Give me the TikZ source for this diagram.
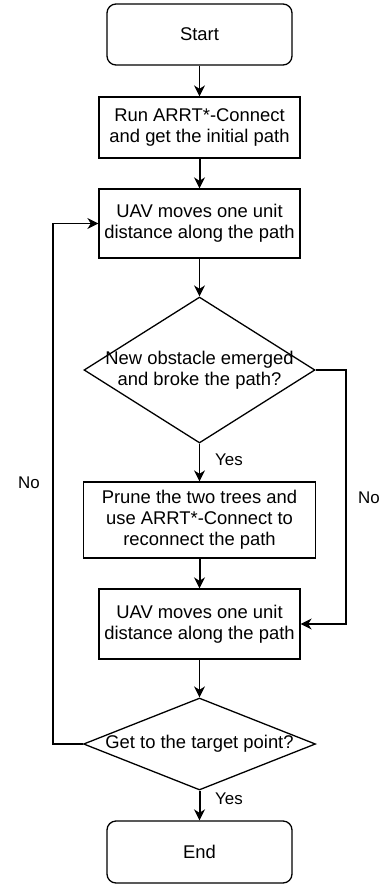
\documentclass[tikz,border=0pt]{standalone}
\usepackage{fontspec}
\setmainfont{Liberation Sans}
\usetikzlibrary{arrows.meta,shapes.geometric,positioning}
\begin{document}
\begin{tikzpicture}[x=1pt,y=-1pt,
  every node/.style={font=\fontsize{18.4}{21.2}\selectfont},
  boxstyle/.style={draw, line width=1.3pt, rectangle, inner sep=0pt, align=center},
  termstyle/.style={boxstyle, rounded corners=9pt},
  decstyle/.style={draw, line width=1.3pt, diamond, inner sep=0pt},
  conn/.style={line width=1.3pt, -{Stealth[length=11pt,width=11pt,inset=3.5pt]}},
  thick conn/.style={conn, line width=2pt},
  lbl/.style={font=\fontsize{16.9}{19.4}\selectfont}
]
\useasboundingbox (0,0) rectangle (382,884);

\node[termstyle, minimum width=185pt, minimum height=61pt] (start) at (199.5,34.5) {Start};
\node[boxstyle, minimum width=201pt, minimum height=61pt] (run) at (199.5,127.5) {Run ARRT*-Connect\\and get the initial path};
\node[boxstyle, minimum width=201pt, minimum height=69pt] (move1) at (199.5,223.5) {UAV moves one unit\\distance along the path};
\node[decstyle, minimum width=231pt, minimum height=146pt] (dec1) at (199.5,370) {};
\node[align=center] (dec1text) at (dec1.center) {New obstacle emerged\\and broke the path?};
\node[boxstyle, minimum width=232pt, minimum height=76pt] (prune) at (199.5,520) {Prune the two trees and\\use ARRT*-Connect to\\reconnect the path};
\node[boxstyle, minimum width=201pt, minimum height=70pt] (move2) at (199.5,624) {UAV moves one unit\\distance along the path};
\node[decstyle, minimum width=232pt, minimum height=92pt] (dec2) at (199.5,744) {};
\node (dec2text) at (dec2.center) {Get to the target point?};
\node[termstyle, minimum width=185pt, minimum height=62pt] (end) at (199.5,852) {End};

\coordinate (r1) at (346,370);
\coordinate (r2) at (346,624);
\coordinate (l1) at (53,744);
\coordinate (l2) at (53,223.5);

\draw[conn] (start) -- (run);
\draw[thick conn] (run) -- (move1);
\draw[conn] (move1) -- (dec1.north);
\draw[conn] (dec1.south) -- (prune);
\draw[thick conn] (prune) -- (move2);
\draw[conn] (move2) -- (dec2.north);
\draw[thick conn] (dec2.south) -- (end);
\draw[conn] (dec1.east) -- (r1) -- (r2) -- (move2.east);
\draw[conn] (dec2.west) -- (l1) -- (l2) -- (move1.west);

\node[lbl] (yes1) at (229,460) {Yes};
\node[lbl] (yes2) at (229,799) {Yes};
\node[lbl] (no1) at (369,498) {No};
\node[lbl] (no2) at (29,483) {No};
\end{tikzpicture}
\end{document}
